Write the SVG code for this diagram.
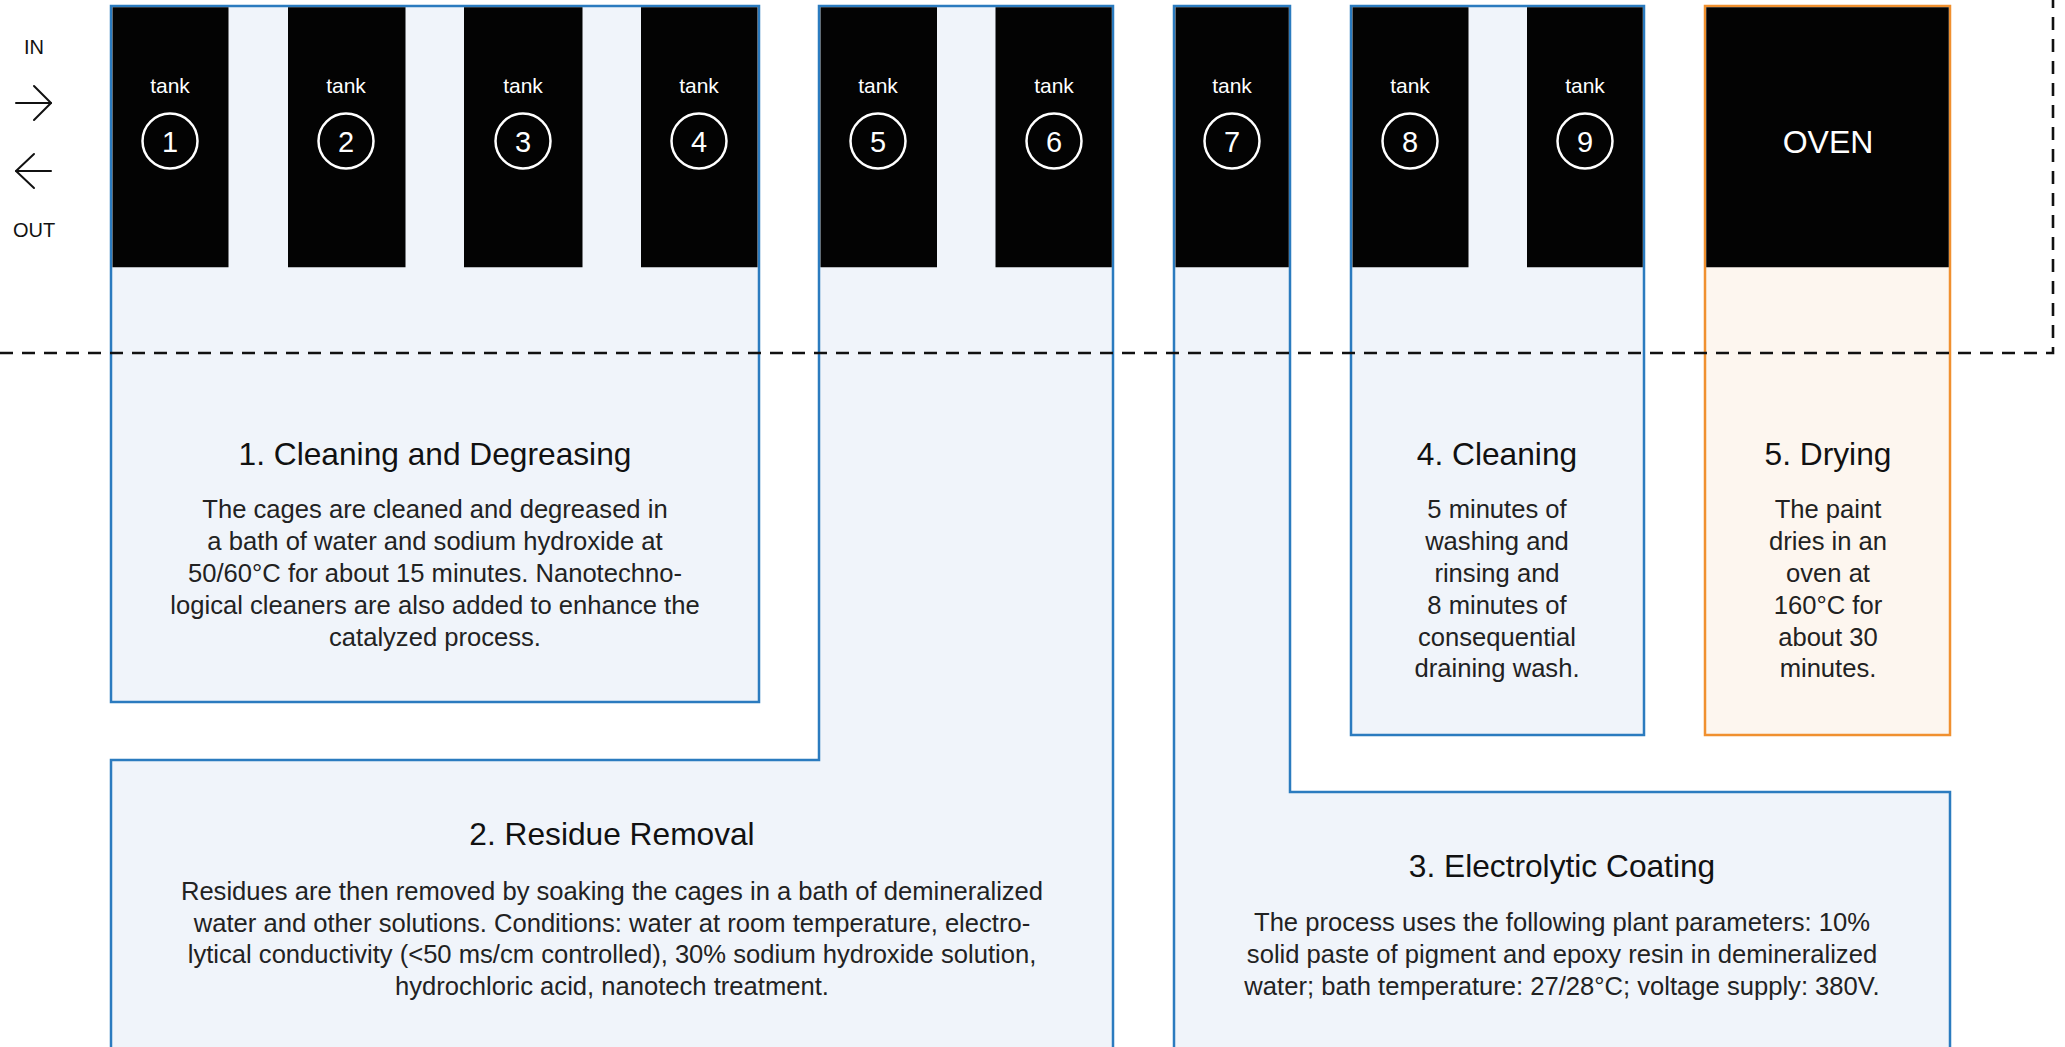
<svg xmlns="http://www.w3.org/2000/svg" width="2065" height="1047" viewBox="0 0 2065 1047">
<style>
.box{fill:#f0f4fa;stroke:#2b7bbf;stroke-width:2.5}
.oven{fill:#fdf6ef;stroke:#f0902f;stroke-width:2.5}
.tank{fill:#030303}
.tl{font-family:"Liberation Sans",Arial,sans-serif;font-size:21px;fill:#fff;text-anchor:middle}
.num{font-family:"Liberation Sans",Arial,sans-serif;font-size:29px;fill:#fff;text-anchor:middle}
.ring{fill:none;stroke:#fff;stroke-width:2.5}
.title{font-family:"Liberation Sans",Arial,sans-serif;font-size:31.7px;fill:#111;text-anchor:middle}
.body{font-family:"Liberation Sans",Arial,sans-serif;font-size:25.6px;fill:#222;text-anchor:middle}
.lg{font-family:"Liberation Sans",Arial,sans-serif;font-size:20px;fill:#111;text-anchor:middle}
.arr{fill:none;stroke:#111;stroke-width:2;stroke-linecap:round;stroke-linejoin:round}
.dash{fill:none;stroke:#111;stroke-width:2.6;stroke-dasharray:13 9}
</style>
<rect width="2065" height="1047" fill="#fff"/>

<g id="legend">
<text class="lg" x="34" y="54">IN</text>
<line class="arr" x1="16" y1="103" x2="51" y2="103"/>
<polyline class="arr" points="34,86 51,103 34,120"/>
<line class="arr" x1="16" y1="171" x2="51" y2="171"/>
<polyline class="arr" points="34,154 16,171 34,188"/>
<text class="lg" x="34" y="237">OUT</text>
</g>

<g id="step1">
<rect class="box" x="111" y="6" width="648" height="696"/>
<rect class="tank" x="112.5" y="7.25" width="116" height="260"/>
<rect class="tank" x="288" y="7.25" width="117.5" height="260"/>
<rect class="tank" x="464" y="7.25" width="118.5" height="260"/>
<rect class="tank" x="641" y="7.25" width="116.5" height="260"/>
<text class="title" x="435" y="465">1. Cleaning and Degreasing</text>
<text class="body" x="435" y="518">The cages are cleaned and degreased in</text>
<text class="body" x="435" y="550">a bath of water and sodium hydroxide at</text>
<text class="body" x="435" y="582">50/60°C for about 15 minutes. Nanotechno-</text>
<text class="body" x="435" y="614">logical cleaners are also added to enhance the</text>
<text class="body" x="435" y="646">catalyzed process.</text>
</g>

<g id="step2">
<polygon class="box" points="819,6 1113,6 1113,1060 111,1060 111,760 819,760"/>
<rect class="tank" x="820.5" y="7.25" width="116.5" height="260"/>
<rect class="tank" x="995.5" y="7.25" width="116.25" height="260"/>
<text class="title" x="612" y="845">2. Residue Removal</text>
<text class="body" x="612" y="900">Residues are then removed by soaking the cages in a bath of demineralized</text>
<text class="body" x="612" y="932">water and other solutions. Conditions: water at room temperature, electro-</text>
<text class="body" x="612" y="963">lytical conductivity (&lt;50 ms/cm controlled), 30% sodium hydroxide solution,</text>
<text class="body" x="612" y="995">hydrochloric acid, nanotech treatment.</text>
</g>

<g id="step3">
<polygon class="box" points="1174,6 1290,6 1290,792 1950,792 1950,1060 1174,1060"/>
<rect class="tank" x="1175.5" y="7.25" width="113.25" height="260"/>
<text class="title" x="1562" y="877">3. Electrolytic Coating</text>
<text class="body" x="1562" y="931">The process uses the following plant parameters: 10%</text>
<text class="body" x="1562" y="963">solid paste of pigment and epoxy resin in demineralized</text>
<text class="body" x="1562" y="995">water; bath temperature: 27/28°C; voltage supply: 380V.</text>
</g>

<g id="step4">
<rect class="box" x="1351" y="6" width="293" height="729"/>
<rect class="tank" x="1352.5" y="7.25" width="116" height="260"/>
<rect class="tank" x="1527" y="7.25" width="115.75" height="260"/>
<text class="title" x="1497" y="465">4. Cleaning</text>
<text class="body" x="1497" y="518">5 minutes of</text>
<text class="body" x="1497" y="550">washing and</text>
<text class="body" x="1497" y="582">rinsing and</text>
<text class="body" x="1497" y="614">8 minutes of</text>
<text class="body" x="1497" y="646">consequential</text>
<text class="body" x="1497" y="677">draining wash.</text>
</g>

<g id="step5">
<rect class="oven" x="1705" y="6" width="245" height="729"/>
<rect class="tank" x="1706.25" y="7.25" width="242.5" height="260"/>
<text x="1828" y="153" style="font-family:'Liberation Sans',Arial,sans-serif;font-size:32px;fill:#fff;text-anchor:middle">OVEN</text>
<text class="title" x="1828" y="465">5. Drying</text>
<text class="body" x="1828" y="518">The paint</text>
<text class="body" x="1828" y="550">dries in an</text>
<text class="body" x="1828" y="582">oven at</text>
<text class="body" x="1828" y="614">160°C for</text>
<text class="body" x="1828" y="646">about 30</text>
<text class="body" x="1828" y="677">minutes.</text>
</g>

<g id="tank-labels">
<g id="tank1"><text class="tl" x="170" y="93">tank</text><circle class="ring" cx="170" cy="141" r="27.5"/><text class="num" x="170" y="152">1</text></g>
<g id="tank2"><text class="tl" x="346" y="93">tank</text><circle class="ring" cx="346" cy="141" r="27.5"/><text class="num" x="346" y="152">2</text></g>
<g id="tank3"><text class="tl" x="523" y="93">tank</text><circle class="ring" cx="523" cy="141" r="27.5"/><text class="num" x="523" y="152">3</text></g>
<g id="tank4"><text class="tl" x="699" y="93">tank</text><circle class="ring" cx="699" cy="141" r="27.5"/><text class="num" x="699" y="152">4</text></g>
<g id="tank5"><text class="tl" x="878" y="93">tank</text><circle class="ring" cx="878" cy="141" r="27.5"/><text class="num" x="878" y="152">5</text></g>
<g id="tank6"><text class="tl" x="1054" y="93">tank</text><circle class="ring" cx="1054" cy="141" r="27.5"/><text class="num" x="1054" y="152">6</text></g>
<g id="tank7"><text class="tl" x="1232" y="93">tank</text><circle class="ring" cx="1232" cy="141" r="27.5"/><text class="num" x="1232" y="152">7</text></g>
<g id="tank8"><text class="tl" x="1410" y="93">tank</text><circle class="ring" cx="1410" cy="141" r="27.5"/><text class="num" x="1410" y="152">8</text></g>
<g id="tank9"><text class="tl" x="1585" y="93">tank</text><circle class="ring" cx="1585" cy="141" r="27.5"/><text class="num" x="1585" y="152">9</text></g>
</g>

<g id="connectors">
<polyline class="dash" points="0,353 2053,353 2053,0"/>
</g>
</svg>
